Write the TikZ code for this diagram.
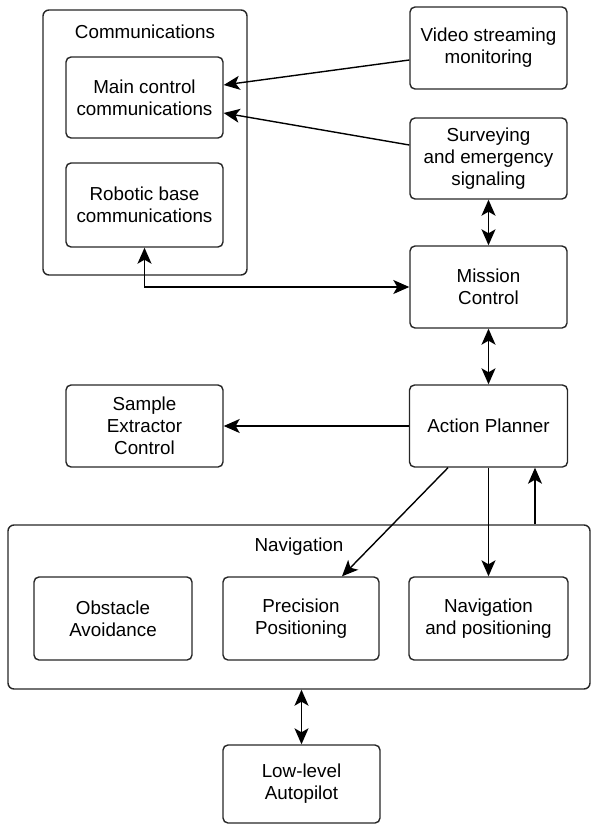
\documentclass[tikz,border=0pt]{standalone}
\usepackage{fontspec}
\setmainfont{Liberation Sans}
\usetikzlibrary{arrows.meta,calc}
\tikzset{
  myhead/.tip={Stealth[length=16pt,width=14pt,inset=4pt]}
}
\begin{document}
\begin{tikzpicture}[x=1pt,y=-1pt,
  box/.style={draw=black!85, line width=1.4pt, rounded corners=5pt, align=center,
    inner sep=0pt, font=\fontsize{18.8}{22}\selectfont},
  frame/.style={draw=black!85, line width=1.4pt, rounded corners=6pt, inner sep=0pt},
  lbl/.style={inner sep=0pt, font=\fontsize{18.8}{22}\selectfont},
  conn/.style={line width=1.4pt, draw=black},
  onearrow/.style={-myhead},
  twoarrow/.style={myhead-myhead}
]
\useasboundingbox (0,0) rectangle (592,825);
% containers
\node[frame, minimum width=204pt, minimum height=265pt] (comm) at (145,142.5) {};
\node[lbl] (commlbl) at (145,32) {Communications};
\node[frame, minimum width=582pt, minimum height=164pt] (nav) at (299,607) {};
\node[lbl] (navlbl) at (299,547) {Navigation};
% boxes
\node[box, minimum width=157pt, minimum height=81pt] (main) at (144.5,97.5) {Main control\\communications};
\node[box, minimum width=157pt, minimum height=84pt] (robot) at (144.5,205) {Robotic base\\communications};
\node[box, minimum width=157pt, minimum height=82pt] (video) at (488.5,48) {Video streaming\\monitoring};
\node[box, minimum width=157pt, minimum height=81pt] (survey) at (488.5,158.5) {Surveying\\and emergency\\signaling};
\node[box, minimum width=157pt, minimum height=82pt] (mission) at (488.5,287) {Mission\\Control};
\node[box, minimum width=158pt, minimum height=82pt] (planner) at (488.5,426) {Action Planner};
\node[box, minimum width=157pt, minimum height=82pt] (sample) at (144.5,426) {Sample\\Extractor\\Control};
\node[box, minimum width=158pt, minimum height=83pt] (obst) at (113,618.5) {Obstacle\\Avoidance};
\node[box, minimum width=156pt, minimum height=83pt] (prec) at (301,618.5) {Precision\\Positioning};
\node[box, minimum width=159pt, minimum height=83pt] (navpos) at (488.5,618.5) {Navigation\\and positioning};
\node[box, minimum width=157pt, minimum height=78pt] (low) at (301.5,784) {Low-level\\Autopilot};
% connectors
\draw[conn, onearrow] ([yshift=-12pt]video.west) -- ([yshift=12.5pt]main.east);
\draw[conn, onearrow] ([yshift=13.5pt]survey.west) -- ([yshift=-15.5pt]main.east);
\draw[conn, twoarrow] (robot.south) |- (mission.west);
\draw[conn, twoarrow] (survey.south) -- (mission.north);
\draw[conn, twoarrow] (mission.south) -- (planner.north);
\draw[conn, onearrow] (planner.west) -- (sample.east);
\draw[conn, onearrow] ([xshift=-40.5pt]planner.south) -- ([xshift=41pt]prec.north);
\draw[conn, onearrow] (planner.south) -- (navpos.north);
\coordinate (upend) at ([xshift=46.5pt]planner.south);
\coordinate (upstart) at (nav.north -| upend);
\draw[conn, onearrow] (upstart) -- (upend);
\coordinate (navbot) at (low.north |- nav.south);
\draw[conn, twoarrow] (navbot) -- (low.north);
\end{tikzpicture}
\end{document}
